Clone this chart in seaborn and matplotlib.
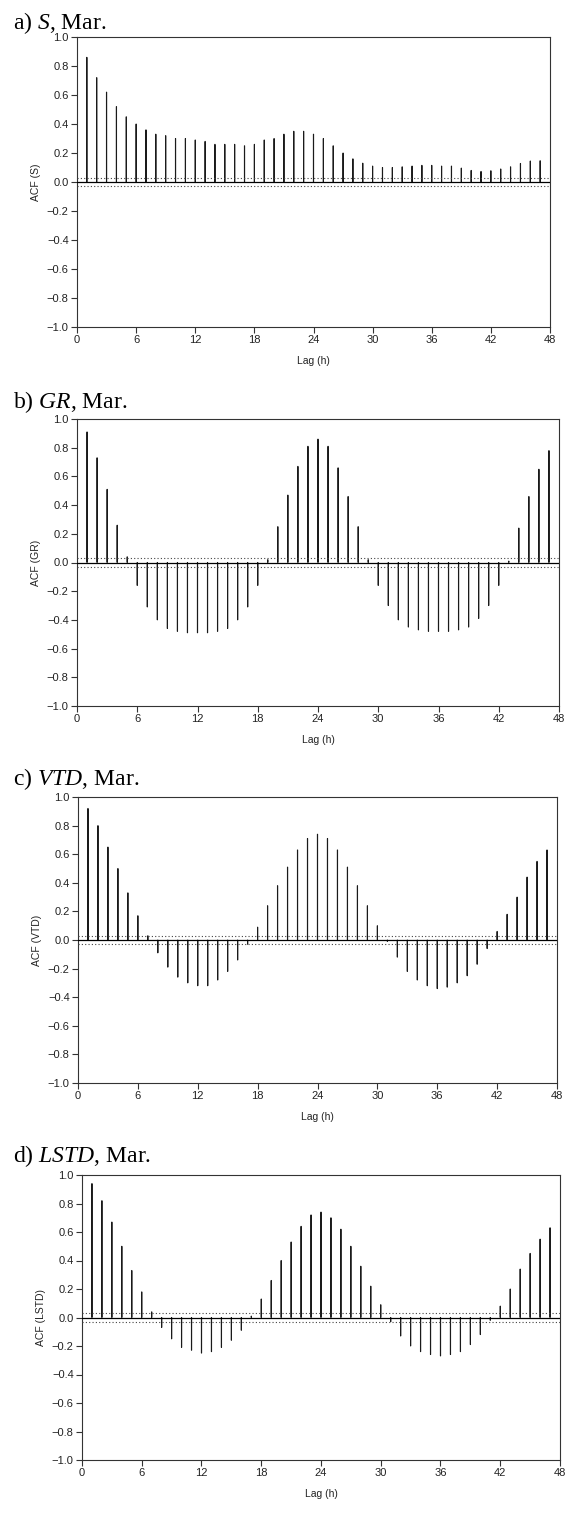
import numpy as np
import matplotlib
matplotlib.use("Agg")
import matplotlib.pyplot as plt
import seaborn as sns

# ---- data ----
lags = list(range(1, 48))

acf_s = [0.86, 0.72, 0.62, 0.52, 0.45, 0.40, 0.36, 0.33, 0.32, 0.30,
         0.30, 0.29, 0.28, 0.26, 0.26, 0.26, 0.25, 0.26, 0.29, 0.30,
         0.33, 0.35, 0.35, 0.33, 0.30, 0.25, 0.20, 0.16, 0.13, 0.11,
         0.10, 0.10, 0.105, 0.11, 0.115, 0.115, 0.11, 0.11, 0.096, 0.08,
         0.073, 0.078, 0.09, 0.105, 0.128, 0.145, 0.147]

acf_gr = [0.91, 0.73, 0.51, 0.26, 0.04, -0.16, -0.31, -0.40, -0.46, -0.48,
          -0.49, -0.49, -0.49, -0.48, -0.46, -0.40, -0.31, -0.16, 0.02, 0.25,
          0.47, 0.67, 0.81, 0.86, 0.81, 0.66, 0.46, 0.25, 0.02, -0.16,
          -0.30, -0.40, -0.45, -0.47, -0.48, -0.48, -0.48, -0.47, -0.45, -0.39,
          -0.30, -0.16, 0.01, 0.24, 0.46, 0.65, 0.78]

acf_vtd = [0.92, 0.80, 0.65, 0.50, 0.33, 0.17, 0.03, -0.09, -0.19, -0.26,
           -0.30, -0.32, -0.32, -0.28, -0.22, -0.14, -0.03, 0.09, 0.24, 0.38,
           0.51, 0.63, 0.71, 0.74, 0.71, 0.63, 0.51, 0.38, 0.24, 0.10,
           -0.01, -0.12, -0.22, -0.28, -0.32, -0.34, -0.33, -0.30, -0.25, -0.17,
           -0.06, 0.06, 0.18, 0.30, 0.44, 0.55, 0.63]

acf_lstd = [0.94, 0.82, 0.67, 0.50, 0.33, 0.18, 0.04, -0.07, -0.15, -0.21,
            -0.23, -0.25, -0.24, -0.21, -0.16, -0.09, 0.01, 0.13, 0.26, 0.40,
            0.53, 0.64, 0.72, 0.74, 0.70, 0.62, 0.50, 0.36, 0.22, 0.09,
            -0.03, -0.13, -0.20, -0.24, -0.26, -0.27, -0.26, -0.24, -0.19, -0.12,
            -0.02, 0.08, 0.20, 0.34, 0.45, 0.55, 0.63]

conf_limit = 0.03

panel_titles = [r"a) $\mathit{S}$, Mar.", r"b) $\mathit{GR}$, Mar.",
                r"c) $\mathit{VTD}$, Mar.", r"d) $\mathit{LSTD}$, Mar."]
y_labels = ["ACF (S)", "ACF (GR)", "ACF (VTD)", "ACF (LSTD)"]
x_label = "Lag (h)"
x_ticks = [0, 6, 12, 18, 24, 30, 36, 42, 48]
y_ticks = [-1.0, -0.8, -0.6, -0.4, -0.2, 0.0, 0.2, 0.4, 0.6, 0.8, 1.0]

series = [acf_s, acf_gr, acf_vtd, acf_lstd]

# ---- style ----
sns.set_style("ticks")
plt.rcParams["font.family"] = ["Liberation Sans", "DejaVu Sans"]
plt.rcParams["mathtext.fontset"] = "custom"
plt.rcParams["mathtext.rm"] = "Liberation Serif"
plt.rcParams["mathtext.it"] = "Liberation Serif:italic"

W, H = 569, 1515
fig = plt.figure(figsize=(W / 100, H / 100), dpi=100)

# pixel boxes: (left, right, top, bottom), title baseline y
boxes = [(77, 550, 37, 327, 29),
         (77, 559, 419, 706, 408),
         (78, 557, 797, 1083, 785),
         (82, 560, 1175, 1460, 1162)]

spine_col = "#333333"
for vals, title, ylab, (l, r, t, b, tb) in zip(series, panel_titles, y_labels, boxes):
    ax = fig.add_axes([l / W, 1 - b / H, (r - l) / W, (b - t) / H])
    sns.barplot(x=lags, y=vals, native_scale=True, width=0.02, color="#1a1a1a",
                saturation=1, linewidth=0.75, edgecolor="#1a1a1a",
                errorbar=None, ax=ax)
    for p in ax.patches:
        p.set_snap(False)
    ax.axhline(0, color="black", lw=0.9, zorder=3)
    ax.axhline(conf_limit, color="#444444", lw=0.8, ls=(0, (1, 2)), zorder=3)
    ax.axhline(-conf_limit, color="#444444", lw=0.8, ls=(0, (1, 2)), zorder=3)
    ax.set_xlim(0, 48)
    ax.set_ylim(-1.0, 1.0)
    ax.set_xticks(x_ticks)
    ax.set_xticklabels([str(v) for v in x_ticks])
    ax.set_yticks(y_ticks)
    ax.set_yticklabels([f"{v:.1f}".replace("-", "\u2212") for v in y_ticks])
    ax.tick_params(axis="both", labelsize=8, length=4, width=0.8,
                   color=spine_col, labelcolor="#222222", pad=2, direction="out")
    for sp in ax.spines.values():
        sp.set_visible(True)
        sp.set_color(spine_col)
        sp.set_linewidth(0.8)
    ax.set_xlabel(x_label, fontsize=7.5, color="#222222", labelpad=8)
    ax.set_ylabel(ylab, fontsize=7.5, color="#222222", labelpad=4)
    fig.text(13 / W, 1 - tb / H, title, fontsize=17, va="baseline", ha="left",
             family="Liberation Serif", color="black")

fig.savefig("out.png", dpi=100)
